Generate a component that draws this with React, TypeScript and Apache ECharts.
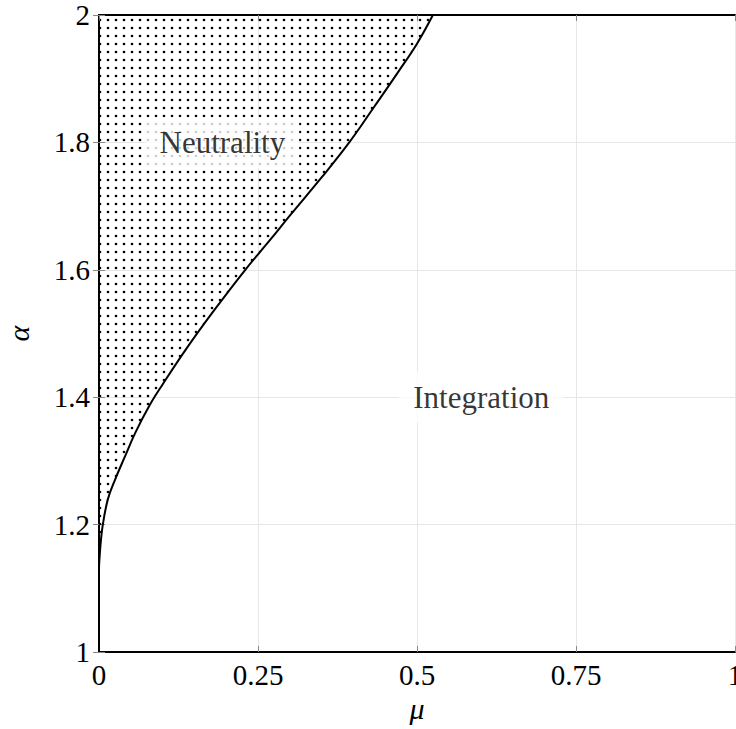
import React, { useEffect, useRef } from "react";
import * as echarts from "echarts";

// Boundary curve (mu, alpha)
const boundaryMu = [0, 0, 0.001, 0.003, 0.006, 0.014, 0.025, 0.04, 0.057, 0.08, 0.1, 0.138, 0.18, 0.23, 0.27, 0.3, 0.35, 0.392, 0.43, 0.47, 0.5, 0.525];
const boundaryAlpha = [1.0, 1.13, 1.15, 1.175, 1.2, 1.24, 1.27, 1.305, 1.344, 1.388, 1.42, 1.477, 1.535, 1.6, 1.648, 1.685, 1.745, 1.798, 1.852, 1.91, 1.955, 2.0];

// Region labels
const regionNames = ["Neutrality", "Integration"];
const regionMu = [0.194, 0.601];
const regionAlpha = [1.8, 1.4];

const xTicks = ["0", "0.25", "0.5", "0.75", "1"];
const yTicks = ["1", "1.2", "1.4", "1.6", "1.8", "2"];

const FONT = "'Liberation Serif', 'DejaVu Serif', serif";

export default function App() {
  const ref = useRef<HTMLDivElement>(null);
  useEffect(() => {
    if (!ref.current) return;
    const chart = echarts.init(ref.current, null, { renderer: "svg" });
    const tile = 8;
    const svgTile = `<svg xmlns="http://www.w3.org/2000/svg" width="${tile}" height="${tile}"><circle cx="4" cy="4" r="1.3" fill="#000"/></svg>`;
    const patternUrl = "data:image/svg+xml;charset=utf-8," + encodeURIComponent(svgTile);

    const xFmt = (v: number) => xTicks[Math.round(v / 0.25)] ?? "";
    const yFmt = (v: number) => yTicks[Math.round((v - 1) / 0.2)] ?? "";

    const curve = boundaryMu.map((m, i) => [m, boundaryAlpha[i]]);
    const labels = regionNames.map((n, i) => ({ value: [regionMu[i], regionAlpha[i]], name: n }));

    const axisLine = { show: true, lineStyle: { color: "#000", width: 2 } };
    const tick = { show: true, inside: true, length: 6, lineStyle: { color: "#888", width: 1 } };

    chart.setOption({
      animation: false,
      backgroundColor: "#fff",
      grid: { left: 99, right: 1, top: 15, bottom: 77, containLabel: false, outerBoundsMode: "none" },
      xAxis: [
        {
          type: "value", min: 0, max: 1, interval: 0.25, position: "bottom",
          name: "μ", nameLocation: "middle", nameGap: 38,
          nameTextStyle: { fontFamily: FONT, fontStyle: "italic", fontSize: 30, color: "#000" },
          axisLine, axisTick: tick,
          axisLabel: { formatter: xFmt, fontFamily: FONT, fontSize: 29, color: "#000", margin: 8 },
          splitLine: { show: true, lineStyle: { color: "#e6e6e6", width: 1 } },
        },
        {
          type: "value", min: 0, max: 1, interval: 0.25, position: "top",
          axisLine, axisTick: tick, axisLabel: { show: false }, splitLine: { show: false },
        },
      ],
      yAxis: [
        {
          type: "value", min: 1, max: 2, interval: 0.2, position: "left",
          name: "α", nameLocation: "middle", nameGap: 66, nameRotate: 90,
          nameTextStyle: { fontFamily: FONT, fontStyle: "italic", fontSize: 30, color: "#000" },
          axisLine, axisTick: tick,
          axisLabel: { formatter: yFmt, fontFamily: FONT, fontSize: 29, color: "#000", margin: 9 },
          splitLine: { show: true, lineStyle: { color: "#e6e6e6", width: 1 } },
        },
        {
          type: "value", min: 1, max: 2, interval: 0.2, position: "right",
          axisLine, axisTick: tick, axisLabel: { show: false }, splitLine: { show: false },
        },
      ],
      series: [
        {
          type: "line",
          data: curve,
          smooth: 0.4,
          symbol: "none",
          lineStyle: { color: "#000", width: 2 },
          areaStyle: {
            origin: "end",
            opacity: 1,
            color: { image: patternUrl, repeat: "repeat", imageWidth: tile, imageHeight: tile },
          },
          z: 3,
        },
        {
          type: "scatter",
          data: labels,
          symbolSize: 0,
          silent: true,
          z: 5,
          label: {
            show: true,
            position: "inside",
            formatter: (p: any) => p.name,
            fontFamily: FONT,
            fontSize: 31,
            color: "#000",
            backgroundColor: "#fff",
            padding: [10, 14, 10, 14],
          },
        },
      ],
    });
    return () => chart.dispose();
  }, []);
  return (
    <div
      ref={ref}
      style={{ position: "absolute", left: 0, top: 0, width: 736, height: 729 }}
    />
  );
}
